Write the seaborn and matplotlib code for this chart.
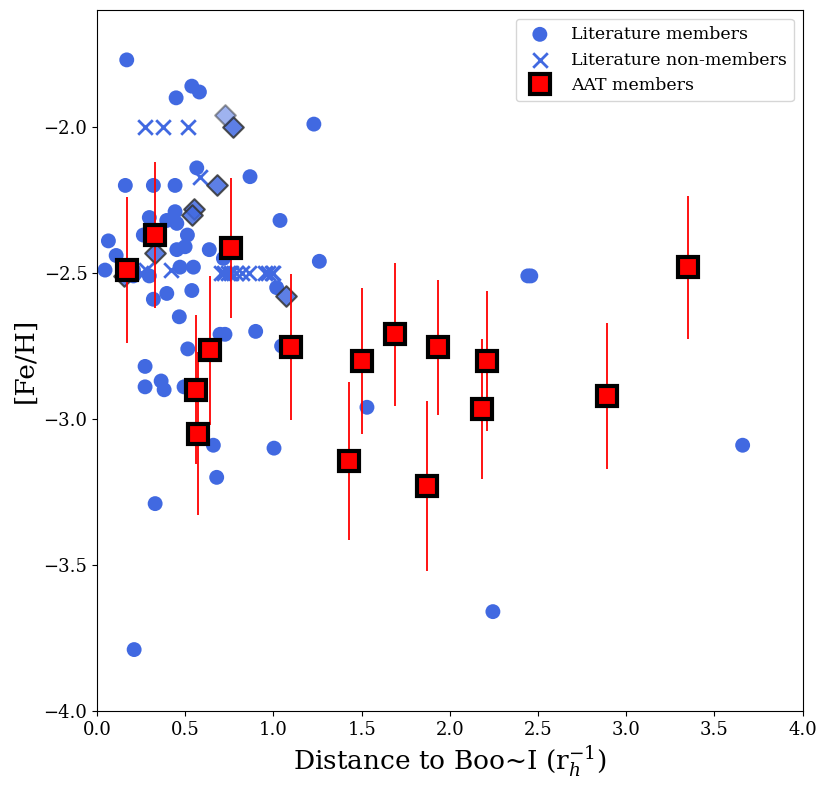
import numpy as np
import pandas as pd
import matplotlib
matplotlib.use("Agg")
import matplotlib.pyplot as plt
import seaborn as sns

# literature members (Boo I)
lit_mem_dist = [0.168, 0.537, 0.580, 0.448, 1.229, 0.160, 0.319, 0.442, 0.565, 0.867,
                1.037, 0.296, 0.442, 0.452, 0.395, 0.512, 0.262, 0.064, 0.108, 0.045,
                0.452, 0.499, 0.636, 0.716, 1.260, 0.546, 0.470, 0.206, 0.296, 0.319,
                0.395, 0.537, 1.018, 0.466, 0.697, 0.725, 0.899, 0.514, 1.046, 0.272,
                0.272, 0.363, 0.380, 0.493, 0.659, 1.003, 0.678, 0.329, 0.210, 1.530,
                2.442, 2.459, 2.244, 3.660, 0.206]
lit_mem_feh = [-1.77, -1.86, -1.88, -1.90, -1.99, -2.20, -2.20, -2.20, -2.14, -2.17,
               -2.32, -2.31, -2.29, -2.33, -2.32, -2.37, -2.37, -2.39, -2.44, -2.49,
               -2.42, -2.41, -2.42, -2.45, -2.46, -2.48, -2.48, -2.51, -2.51, -2.59,
               -2.57, -2.56, -2.55, -2.65, -2.71, -2.71, -2.70, -2.76, -2.75, -2.82,
               -2.89, -2.87, -2.90, -2.89, -3.09, -3.10, -3.20, -3.29, -3.79, -2.96,
               -2.51, -2.51, -3.66, -3.09, -2.49]

# literature non-members
lit_non_dist = [0.272, 0.372, 0.516, 0.584, 0.28, 0.42, 0.25,
                0.70, 0.72, 0.74, 0.76, 0.79, 0.82, 0.86, 0.95, 0.97, 0.99, 1.00]
lit_non_feh = [-2.00, -2.00, -2.00, -2.17, -2.49, -2.49, -2.50,
               -2.50, -2.50, -2.50, -2.50, -2.50, -2.50, -2.50, -2.50, -2.50, -2.50, -2.50]

# flagged literature stars (diamonds)
flag_dist = [0.77, 0.68, 0.55, 0.54, 0.33, 0.15, 1.07]
flag_feh = [-2.00, -2.20, -2.28, -2.30, -2.43, -2.51, -2.58]
faint_dist = [0.725]
faint_feh = [-1.96]

# AAT members
aat_dist = [0.17, 0.33, 0.76, 0.56, 0.57, 0.64, 1.10, 1.43, 1.50, 1.69,
            1.93, 1.87, 2.18, 2.21, 2.89, 3.35]
aat_feh = [-2.49, -2.37, -2.415, -2.90, -3.05, -2.765, -2.755, -3.145, -2.80, -2.71,
           -2.755, -3.23, -2.965, -2.80, -2.92, -2.48]
aat_err = [0.25, 0.25, 0.24, 0.255, 0.28, 0.255, 0.25, 0.27, 0.25, 0.245,
           0.23, 0.29, 0.24, 0.24, 0.25, 0.245]

sns.set_style("ticks")
plt.rcParams['font.family'] = ['DejaVu Serif']
plt.rcParams['mathtext.fontset'] = 'dejavuserif'
for k in ['text.color', 'axes.labelcolor', 'xtick.color', 'ytick.color', 'axes.edgecolor']:
    plt.rcParams[k] = 'black'

fig, ax = plt.subplots(figsize=(8.3, 7.89), dpi=100)
fig.subplots_adjust(left=0.117, right=0.967, top=0.987, bottom=0.099)

mem = pd.DataFrame({"dist": lit_mem_dist, "feh": lit_mem_feh})
non = pd.DataFrame({"dist": lit_non_dist, "feh": lit_non_feh})

sns.scatterplot(data=mem, x="dist", y="feh", ax=ax, color="royalblue", s=115,
                edgecolor="none", marker="o", label="Literature members", zorder=2)
sns.scatterplot(data=non, x="dist", y="feh", ax=ax, color="royalblue", s=110,
                marker="x", linewidth=2, label="Literature non-members", zorder=2)
ax.scatter(flag_dist, flag_feh, marker="D", s=110, color="royalblue", alpha=0.85,
           edgecolor="#333333", linewidth=1.5, zorder=3)
ax.scatter(faint_dist, faint_feh, marker="D", s=110, color="royalblue", alpha=0.5,
           edgecolor="#333333", linewidth=1.5, zorder=3)
ax.errorbar(aat_dist, aat_feh, yerr=aat_err, fmt="s", color="red", ecolor="red",
            elinewidth=1.3, capsize=0, markersize=14, markeredgecolor="black",
            markeredgewidth=3, label="AAT members", zorder=4)

ax.set_xlim(0, 4.0)
ax.set_ylim(-4.0, -1.6)
ax.set_xticks(np.arange(0, 4.01, 0.5))
ax.set_yticks([-4.0, -3.5, -3.0, -2.5, -2.0])
ax.tick_params(labelsize=13)
ax.set_xlabel(r"Distance to Boo~I (r$_h^{-1}$)", fontsize=19)
ax.set_ylabel("[Fe/H]", fontsize=19)
for sp in ax.spines.values():
    sp.set_visible(True)

ax.legend(loc="upper right", fontsize=12.5, handletextpad=0.8, borderpad=0.4)

plt.savefig("out.png", dpi=100)
